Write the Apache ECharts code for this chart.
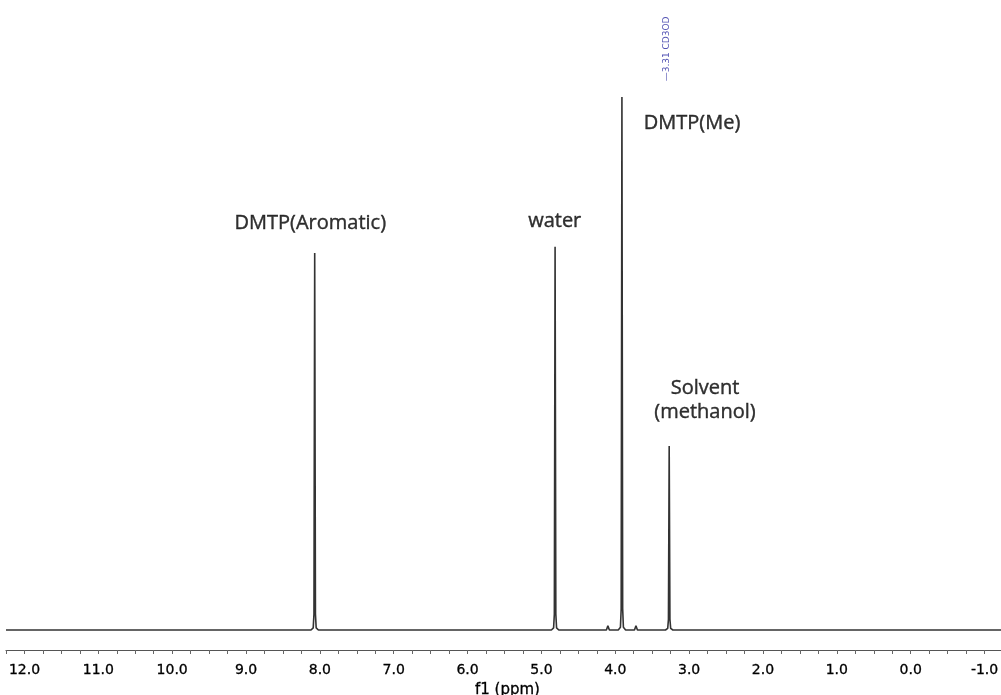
<!DOCTYPE html>
<html>
<head>
<meta charset="utf-8">
<script src="https://cdn.jsdelivr.net/npm/echarts@6/dist/echarts.min.js"></script>
<style>html,body{margin:0;padding:0;background:#fff;}#c{width:1001px;height:695px;}</style>
</head>
<body>
<div id="c"></div>
<script>
// Spectrum points (chemical shift in ppm, intensity in % of tallest peak)
const shiftPpm = [12.25, 8.12, 8.09, 8.08, 8.07, 8.06, 8.05, 8.02,
  4.865, 4.835, 4.825, 4.815, 4.805, 4.795, 4.765,
  4.12, 4.10, 4.08,
  3.96, 3.93, 3.92, 3.91, 3.90, 3.89, 3.86,
  3.74, 3.72, 3.70,
  3.32, 3.29, 3.28, 3.27, 3.26, 3.25, 3.22,
  -1.25];
const intensity = [0, 0, 0.4, 3, 70.7, 3, 0.4, 0,
  0, 0.4, 3, 71.9, 3, 0.4, 0,
  0, 0.8, 0,
  0, 0.5, 4, 100, 4, 0.5, 0,
  0, 0.8, 0,
  0, 0.3, 2, 34.5, 2, 0.3, 0,
  0];
// Annotations: text, shift, intensity
const annText = ['DMTP(Aromatic)', 'water', 'DMTP(Me)', 'Solvent\n(methanol)'];
const annPpm = [8.13, 4.82, 2.96, 2.785];
const annVal = [76.2, 76.7, 95.1, 43];
// Peak label at the top
const peakLabel = '\u20143.31 CD3OD';
const peakLabelPpm = 3.31;
const peakLabelVal = 109;
// Axis range and tick step
const xMin = -1.25, xMax = 12.25, xStep = 0.25;

const chart = echarts.init(document.getElementById('c'));
chart.setOption({
  animation: false,
  backgroundColor: '#fff',
  grid: {left: 6, right: -2, top: 10, bottom: 45, containLabel: false, outerBoundsMode: 'none'},
  xAxis: {
    type: 'value', inverse: true, min: xMin, max: xMax, interval: xStep,
    name: 'f1 (ppm)', nameLocation: 'middle', nameGap: 30,
    nameTextStyle: {fontFamily: 'DejaVu Sans', fontSize: 15, color: '#000', padding: [0, 0, 0, 6],
      textBorderColor: '#000', textBorderWidth: 0.3},
    axisLine: {onZero: false, lineStyle: {color: '#555', width: 1.2}},
    axisTick: {length: 4, lineStyle: {color: '#666'}},
    axisLabel: {
      fontFamily: 'DejaVu Sans', fontSize: 14, color: '#000', margin: 13,
      textBorderColor: '#000', textBorderWidth: 0.3,
      formatter: v => (Math.abs(v - Math.round(v)) < 1e-6 ? v.toFixed(1) : '')
    },
    splitLine: {show: false}
  },
  yAxis: {type: 'value', min: -3.75, max: 116.3, show: false, splitLine: {show: false}},
  series: [
    {
      type: 'line', showSymbol: false, symbol: 'none',
      data: shiftPpm.map((p, i) => [p, intensity[i]]),
      lineStyle: {color: '#333', width: 1.6}
    },
    {
      type: 'scatter', symbolSize: 0, clip: false,
      data: annText.map((t, i) => ({value: [annPpm[i], annVal[i]], name: t})),
      label: {show: true, position: 'inside', formatter: p => p.name,
        fontFamily: 'Open Sans', fontSize: 20, color: '#000', lineHeight: 24, align: 'center',
        textBorderColor: '#000', textBorderWidth: 0.4}
    },
    {
      type: 'scatter', symbolSize: 0, clip: false,
      data: [{value: [peakLabelPpm, peakLabelVal], name: peakLabel}],
      label: {show: true, position: 'inside', rotate: 90, formatter: p => p.name,
        fontFamily: 'DejaVu Sans', fontSize: 9, color: '#2828a0'}
    }
  ]
});
</script>
</body>
</html>
